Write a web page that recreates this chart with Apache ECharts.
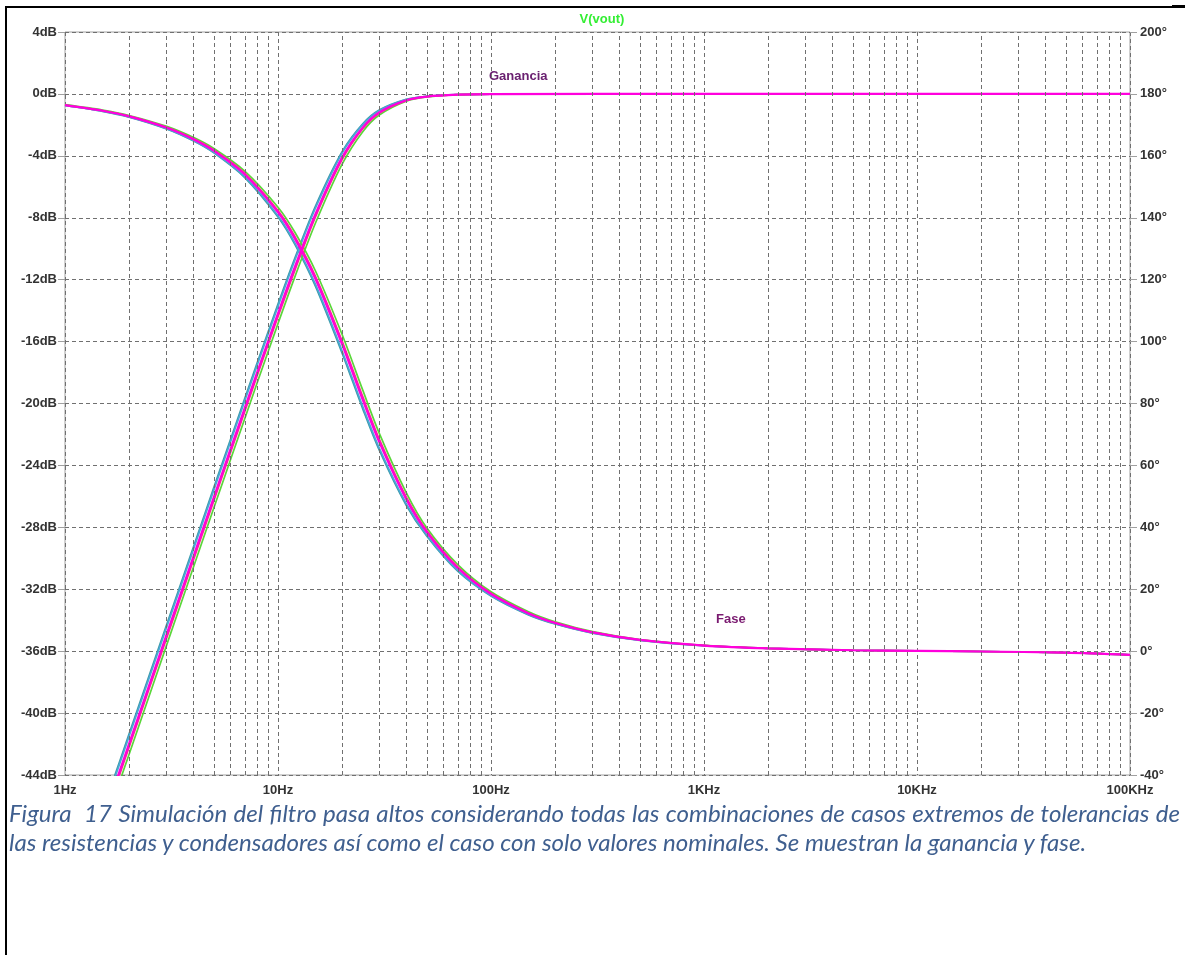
<!DOCTYPE html>
<html>
<head>
<meta charset="utf-8">
<script src="https://cdn.jsdelivr.net/npm/echarts@6/dist/echarts.min.js"></script>
<title>V(vout)</title>
<style>
  body { margin: 0; background: #fff; }
  #main { position: absolute; left: 0; top: 0; width: 1185px; height: 955px; }
  .frameTop { position: absolute; left: 5px; top: 6px; width: 1167px; height: 2px; background: #000; }
  .frameTop2 { position: absolute; left: 1172px; top: 5px; width: 13px; height: 3px; background: #000; }
  .frameLeft { position: absolute; left: 5px; top: 6px; width: 2px; height: 949px; background: #000; }
  .caption { position: absolute; left: 9px; width: 1171px; line-height: 29px; font-style: italic; font-family: Lato, "Open Sans", sans-serif; font-size: 20px; color: #3f5f8f; }
  .just { text-align: justify; text-align-last: justify; }
</style>
</head>
<body>
<div id="main"></div>
<div class="frameTop"></div>
<div class="frameTop2"></div>
<div class="frameLeft"></div>
<div id="cap1" class="caption just" style="top:798px;">Figura&nbsp; 17 Simulación del filtro pasa altos considerando todas las combinaciones de casos extremos de tolerancias de</div>
<div id="cap2" class="caption" style="top:827px;">las resistencias y condensadores así como el caso con solo valores nominales. Se muestran la ganancia y fase.</div>
<script type="text/javascript">
// frequencies (Hz) where the traces were read
var gainFreq = [1.6, 1.8, 2, 2.5, 3, 4, 5, 6, 8, 10, 12, 15, 20, 25, 30, 40, 50, 70, 100, 1000, 10000, 100000];
var gainTeal  = [-45.22, -43.17, -41.34, -37.46, -34.30, -29.30, -25.42, -22.28, -17.34, -13.58, -10.61, -7.24, -3.73, -1.93, -1.03, -0.35, -0.15, -0.04, -0.01, 0, 0, 0];
var gainBlue  = [-45.38, -43.33, -41.50, -37.62, -34.46, -29.46, -25.58, -22.44, -17.49, -13.73, -10.75, -7.37, -3.82, -1.98, -1.07, -0.37, -0.15, -0.04, -0.01, 0, 0, 0];
var gainMag   = [-45.84, -43.80, -41.97, -38.09, -34.92, -29.92, -26.05, -22.90, -17.95, -14.18, -11.18, -7.76, -4.10, -2.16, -1.18, -0.41, -0.17, -0.05, -0.01, 0, 0, 0];
var gainRed   = [-46.08, -44.03, -42.20, -38.32, -35.16, -30.16, -26.28, -23.13, -18.18, -14.40, -11.40, -7.95, -4.25, -2.25, -1.23, -0.43, -0.18, -0.05, -0.01, 0, 0, 0];
var gainGreen = [-46.53, -44.48, -42.66, -38.78, -35.61, -30.61, -26.74, -23.59, -18.63, -14.84, -11.82, -8.34, -4.54, -2.44, -1.35, -0.47, -0.20, -0.05, -0.01, 0, 0, 0];

var phaseFreq  = [1, 1.5, 2, 3, 4, 5, 7, 10, 12, 15, 20, 25, 30, 40, 50, 70, 100, 150, 200, 300, 500, 1000, 2000, 5000, 10000, 20000, 50000, 100000];
var phaseTeal  = [176.25, 174.37, 172.49, 168.68, 164.84, 160.94, 152.91, 140.24, 131.39, 117.84, 96.25, 78.28, 64.67, 47.13, 37.14, 25.74, 17.80, 11.72, 8.78, 5.84, 3.50, 1.75, 0.91, 0.30, 0.10, -0.10, -0.50, -1.20];
var phaseBlue  = [176.28, 174.42, 172.55, 168.78, 164.98, 161.11, 153.17, 140.63, 131.87, 118.45, 96.98, 79.02, 65.33, 47.63, 37.46, 26.00, 17.96, 11.84, 8.87, 5.90, 3.53, 1.77, 0.91, 0.30, 0.10, -0.10, -0.50, -1.20];
var phaseMag   = [176.38, 174.57, 172.75, 169.08, 165.38, 161.62, 153.91, 141.75, 133.26, 120.21, 99.12, 81.16, 67.27, 49.09, 38.40, 26.76, 18.45, 12.19, 9.11, 6.06, 3.63, 1.82, 0.91, 0.30, 0.10, -0.10, -0.50, -1.20];
var phaseRed   = [176.43, 174.64, 172.85, 169.23, 165.58, 161.87, 154.28, 142.31, 133.95, 121.08, 100.18, 82.22, 68.23, 49.81, 38.87, 27.14, 18.69, 12.36, 9.23, 6.14, 3.68, 1.84, 0.91, 0.30, 0.10, -0.10, -0.50, -1.20];
var phaseGreen = [176.52, 174.79, 173.04, 169.52, 165.97, 162.37, 155.00, 143.40, 135.31, 122.80, 102.27, 84.31, 70.12, 51.24, 39.78, 27.88, 19.17, 12.70, 9.47, 6.30, 3.77, 1.89, 0.91, 0.30, 0.10, -0.10, -0.50, -1.20];

var xTickLabels = ['1Hz', '10Hz', '100Hz', '1KHz', '10KHz', '100KHz'];

var traces = [
    { color: '#3c9ca6', gain: gainTeal, phase: phaseTeal },
    { color: '#4aa6d6', gain: gainBlue, phase: phaseBlue },
    { color: '#5ad63a', gain: gainGreen, phase: phaseGreen },
    { color: '#ff2a90', gain: gainRed, phase: phaseRed },
    { color: '#ff00dd', gain: gainMag, phase: phaseMag }
];

// size the caption font so that line 2 reaches "valores" at about x=597
(function () {
    var ctx = document.createElement('canvas').getContext('2d');
    ctx.font = 'italic 20px Lato';
    var wPre = ctx.measureText('las resistencias y condensadores así como el caso con solo ').width;
    var w1 = ctx.measureText(document.getElementById('cap1').textContent).width;
    var fs = Math.min(20 * 588 / wPre, 20 * 1160 / w1);
    document.getElementById('cap1').style.fontSize = fs + 'px';
    document.getElementById('cap2').style.fontSize = fs + 'px';
})();

function pairs(xs, ys) {
    var out = [];
    for (var i = 0; i < xs.length; i++) out.push([xs[i], ys[i]]);
    return out;
}

// minor log grid lines 2..9 per decade
var minorLines = [];
for (var d = 1; d < 100000; d *= 10) {
    for (var k = 2; k <= 9; k++) minorLines.push({ xAxis: k * d });
}

var dash = { type: [4, 3], color: '#707070', width: 1 };
var labelFont = { color: '#333', fontFamily: 'Liberation Sans, Arial', fontWeight: 'bold', fontSize: 13 };

var series = [{
    type: 'line', z: 1, silent: true, symbol: 'none',
    data: [[1, -100]],
    markLine: { silent: true, symbol: 'none', label: { show: false }, lineStyle: dash, data: minorLines }
}];
traces.forEach(function (t, i) {
    var w = (i === traces.length - 1) ? 2.2 : 1.7;
    series.push({
        type: 'line', yAxisIndex: 0, smooth: 0.3, symbol: 'none', z: 3,
        lineStyle: { color: t.color, width: w }, data: pairs(gainFreq, t.gain)
    });
    series.push({
        type: 'line', yAxisIndex: 1, smooth: 0.3, symbol: 'none', z: 3,
        lineStyle: { color: t.color, width: w }, data: pairs(phaseFreq, t.phase)
    });
});

var myChart = echarts.init(document.getElementById('main'));
var option = {
    animation: false,
    backgroundColor: '#fff',
    title: {
        text: 'V(vout)', left: 597, top: 8, textAlign: 'center',
        textStyle: { color: '#33ee33', fontFamily: 'Liberation Sans, Arial', fontWeight: 'bold', fontSize: 13 }
    },
    grid: { left: 65, right: 55, top: 32, bottom: 180, show: true, borderColor: '#a0a0a0', borderWidth: 1 },
    xAxis: {
        type: 'log', logBase: 10, min: 1, max: 100000,
        axisLine: { show: false }, axisTick: { show: false },
        splitLine: { show: true, lineStyle: dash },
        axisLabel: Object.assign({
            margin: 9,
            formatter: function (v) { return xTickLabels[Math.round(Math.log10(v))]; }
        }, labelFont)
    },
    yAxis: [{
        type: 'value', min: -44, max: 4, interval: 4,
        axisLine: { show: false },
        axisTick: { show: true, length: 7, lineStyle: { color: '#a0a0a0' } },
        splitLine: { show: true, lineStyle: dash },
        axisLabel: Object.assign({ margin: 8, formatter: '{value}dB' }, labelFont)
    }, {
        type: 'value', min: -40, max: 200, interval: 20, position: 'right',
        axisLine: { show: false },
        axisTick: { show: true, length: 7, lineStyle: { color: '#a0a0a0' } },
        splitLine: { show: false },
        axisLabel: Object.assign({ margin: 10, formatter: '{value}°' }, labelFont)
    }],
    graphic: [
        { type: 'text', left: 489, top: 70, style: { text: 'Ganancia', fill: '#6a2070', font: 'bold 13px "Liberation Sans", Arial' } },
        { type: 'text', left: 716, top: 613, style: { text: 'Fase', fill: '#7a1a70', font: 'bold 13px "Liberation Sans", Arial' } }
    ],
    series: series
};
myChart.setOption(option);
</script>
</body>
</html>
